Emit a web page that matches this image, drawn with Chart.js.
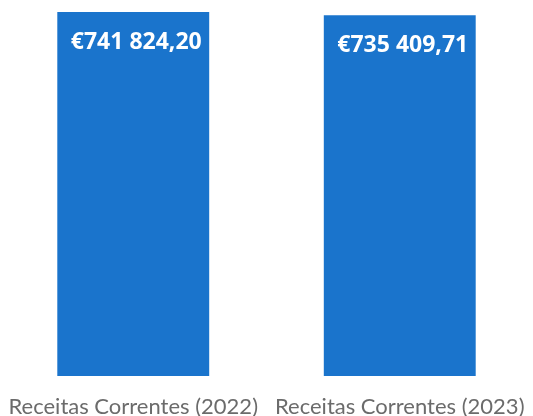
<!DOCTYPE html>
<html>
<head>
<meta charset="utf-8">
<script src="https://cdn.jsdelivr.net/npm/chart.js@4"></script>
<style>
  html, body { margin: 0; padding: 0; background: #fff; }
  #wrap { width: 533px; height: 416px; }
</style>
</head>
<body>
<div id="wrap"><canvas id="bars" width="533" height="416"></canvas></div>
<script>
const categories = ['Receitas Correntes (2022)', 'Receitas Correntes (2023)'];
const receitas = [741824.20, 735409.71];
const valueLabels = ['€741 824,20', '€735 409,71'];

// write the value inside the top of each bar
const barLabels = {
    id: 'barLabels',
    afterDatasetsDraw(chart) {
        const ctx = chart.ctx;
        const meta = chart.getDatasetMeta(0);
        ctx.save();
        ctx.fillStyle = '#ffffff';
        ctx.font = 'bold 23px "Open Sans"';
        ctx.textAlign = 'center';
        ctx.textBaseline = 'middle';
        meta.data.forEach((bar, i) => {
            ctx.fillText(valueLabels[i], bar.x + 3, bar.y + 30);
        });
        ctx.restore();
    }
};

const ctx = document.getElementById('bars');
new Chart(ctx, {
    type: 'bar',
    data: {
        labels: categories,
        datasets: [{
            data: receitas,
            backgroundColor: '#1a74cc',
            borderWidth: 0,
            categoryPercentage: 1,
            barPercentage: 0.57,
        }]
    },
    options: {
        responsive: false,
        animation: false,
        layout: { padding: { top: 12, left: 0, right: 0, bottom: 0 } },
        plugins: {
            legend: { display: false },
            tooltip: { enabled: false },
        },
        scales: {
            x: {
                grid: { display: false },
                border: { display: false },
                afterFit(scale) {
                    // labels are wide, keep the axis from squeezing the bars
                    scale.paddingLeft = 0;
                    scale.paddingRight = 0;
                    scale.height = 40;
                },
                ticks: {
                    color: '#6b6b6b',
                    padding: 12,
                    maxRotation: 0,
                    autoSkip: false,
                    font: { family: 'Lato', size: 22, lineHeight: 1 },
                },
            },
            y: {
                display: false,
                min: 0,
                max: Math.max(...receitas),
            }
        }
    },
    plugins: [barLabels],
});
</script>
</body>
</html>
